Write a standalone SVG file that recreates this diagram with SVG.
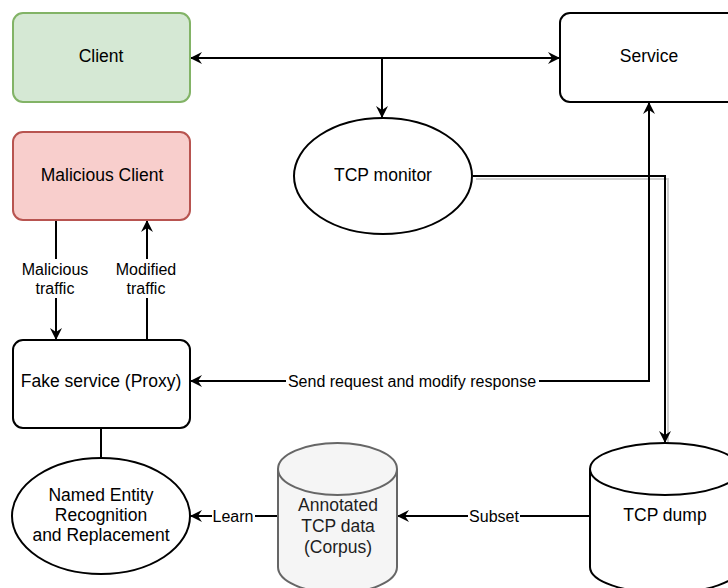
<svg xmlns="http://www.w3.org/2000/svg" width="728" height="588" viewBox="0 0 728 588">
  <style>
    .node { stroke: #000; stroke-width: 2; fill: #fff; }
    .label { font-family: "Liberation Sans", Arial, Helvetica, sans-serif; font-size: 17.5px; fill: #000; text-anchor: middle; dominant-baseline: central; }
    .elabel { font-family: "Liberation Sans", Arial, Helvetica, sans-serif; font-size: 16px; fill: #000; text-anchor: middle; dominant-baseline: central; }
    .edge { fill: none; stroke: #000; stroke-width: 2; }
    .lbg { fill: #fff; }
    .dark { fill: #1e1e1e; }
  </style>
  <defs>
    <marker id="arrow" viewBox="0 0 12 12" refX="12" refY="6" markerWidth="12" markerHeight="12" markerUnits="userSpaceOnUse" orient="auto">
      <path d="M0,0 L12,6 L0,12 L4,6 Z" fill="#000"/>
    </marker>
    <marker id="arrowStart" viewBox="0 0 12 12" refX="0" refY="6" markerWidth="12" markerHeight="12" markerUnits="userSpaceOnUse" orient="auto">
      <path d="M12,0 L0,6 L12,12 L8,6 Z" fill="#000"/>
    </marker>
  </defs>

  <rect width="728" height="588" fill="#fff"/>

  <!-- connectors -->
  <g id="connectors">
    <!-- Client <-> Service -->
    <path class="edge" d="M190,58 H560" marker-start="url(#arrowStart)" marker-end="url(#arrow)"/>
    <!-- tap to TCP monitor -->
    <path class="edge" d="M382,58 V118" marker-end="url(#arrow)"/>
    <!-- TCP monitor to TCP dump (with shadow) -->
    <path d="M476,179 H668 V443" fill="none" stroke="#cfcfcf" stroke-width="2"/>
    <path class="edge" d="M473,176 H665 V443" marker-end="url(#arrow)"/>
    <!-- Proxy <-> Service -->
    <path class="edge" d="M190,381 H649 V102" marker-start="url(#arrowStart)" marker-end="url(#arrow)"/>
    <rect class="lbg" x="286" y="372" width="253" height="19"/>
    <text class="elabel" x="412" y="381">Send request and modify response</text>
    <!-- Malicious traffic -->
    <path class="edge" d="M56,220 V340" marker-end="url(#arrow)"/>
    <rect class="lbg" x="18" y="259" width="76" height="39"/>
    <text class="elabel" x="55" y="269">Malicious</text>
    <text class="elabel" x="55" y="288">traffic</text>
    <!-- Modified traffic -->
    <path class="edge" d="M147,340 V220" marker-end="url(#arrow)"/>
    <rect class="lbg" x="112" y="259" width="68" height="39"/>
    <text class="elabel" x="146" y="269">Modified</text>
    <text class="elabel" x="146" y="288">traffic</text>
    <!-- Proxy to NER -->
    <path class="edge" d="M101,428 V458"/>
    <!-- Subset -->
    <path class="edge" d="M590,516 H397" marker-end="url(#arrow)"/>
    <rect class="lbg" x="468" y="507" width="52" height="19"/>
    <text class="elabel" x="494" y="516">Subset</text>
    <!-- Learn -->
    <path class="edge" d="M278,516 H190" marker-end="url(#arrow)"/>
    <rect class="lbg" x="212" y="507" width="43" height="19"/>
    <text class="elabel" x="233" y="516">Learn</text>
  </g>

  <g id="client">
    <rect x="13" y="13" width="177" height="89" rx="10" fill="#d5e8d4" stroke="#82b366" stroke-width="2"/>
    <text class="label" x="101" y="56">Client</text>
  </g>

  <g id="service">
    <rect class="node" x="560" y="13" width="178" height="89" rx="10"/>
    <text class="label" x="649" y="56">Service</text>
  </g>

  <g id="tcp-monitor">
    <ellipse class="node" cx="383" cy="176" rx="89" ry="58"/>
    <text class="label" x="383" y="175">TCP monitor</text>
  </g>

  <g id="malicious-client">
    <rect x="13" y="132" width="177" height="88" rx="10" fill="#f8cecc" stroke="#b85450" stroke-width="2"/>
    <text class="label" x="102" y="175">Malicious Client</text>
  </g>

  <g id="fake-service">
    <rect class="node" x="13" y="340" width="177" height="88" rx="10"/>
    <text class="label" x="101" y="381">Fake service (Proxy)</text>
  </g>

  <g id="ner">
    <ellipse class="node" cx="101" cy="516" rx="89" ry="58"/>
    <text class="label" x="101" y="495">Named Entity</text>
    <text class="label" x="101" y="515">Recognition</text>
    <text class="label" x="101" y="535">and Replacement</text>
  </g>

  <g id="corpus">
    <path d="M278,469 A59.5,26 0 0 1 397,469 V567 A59.5,26 0 0 1 278,567 Z" fill="#f5f5f5" stroke="#666" stroke-width="2"/>
    <path d="M278,469 A59.5,26 0 0 0 397,469" fill="none" stroke="#666" stroke-width="2"/>
    <text class="label dark" x="338" y="505">Annotated</text>
    <text class="label dark" x="338" y="526">TCP data</text>
    <text class="label dark" x="338" y="547">(Corpus)</text>
  </g>

  <g id="tcp-dump">
    <path class="node" d="M590,469 A75,26 0 0 1 740,469 V567 A75,26 0 0 1 590,567 Z"/>
    <path class="edge" d="M590,469 A75,26 0 0 0 740,469"/>
    <text class="label" x="665" y="515">TCP dump</text>
  </g>
</svg>
